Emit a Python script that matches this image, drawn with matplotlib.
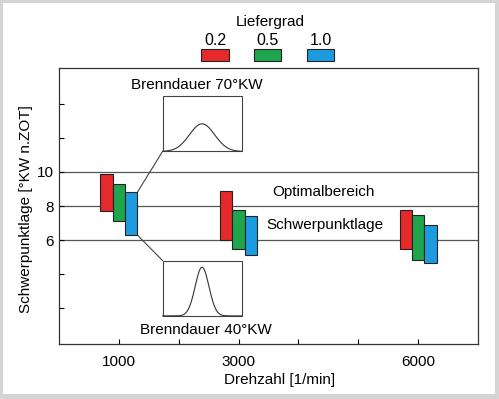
import numpy as np
import matplotlib.pyplot as plt
from matplotlib.patches import Rectangle

plt.rcParams['font.family'] = ['Liberation Sans', 'DejaVu Sans']

# data
drehzahl = [1000, 3000, 6000]
liefergrad = ['0.2', '0.5', '1.0']
colors = ['#e62a2c', '#1fa54b', '#1c9be0']
oben = {'0.2': [9.9, 8.9, 7.75],
        '0.5': [9.3, 7.75, 7.45],
        '1.0': [8.8, 7.4, 6.9]}
unten = {'0.2': [7.7, 6.0, 5.5],
         '0.5': [7.1, 5.5, 4.85],
         '1.0': [6.3, 5.15, 4.65]}
bereich = [6, 8, 10]
xticks = [1000, 2000, 3000, 4000, 5000, 6000]
xticklabels = ['1000', '', '3000', '', '', '6000']
yticks = [2, 4, 6, 8, 10, 12, 14]
yticklabels = ['', '', '6', '8', '10', '', '']

fig = plt.figure(figsize=(4.99, 3.99), dpi=100)
fig.patch.set_facecolor('#d4d4d4')
fig.patches.append(Rectangle((3 / 499, 5 / 399), 492 / 499, 391 / 399,
                             transform=fig.transFigure, facecolor='white',
                             edgecolor='none', zorder=-5))
ax = fig.add_axes([59 / 499, 55 / 399, 419 / 499, 276 / 399])
ax.set_facecolor('white')

# horizontal lines of the optimal range
for y in bereich:
    ax.axhline(y, color='#555555', lw=0.9, zorder=1)

# bars
w = 205
for i, lg in enumerate(liefergrad):
    x = [d + (i - 1) * w for d in drehzahl]
    h = [o - u for o, u in zip(oben[lg], unten[lg])]
    ax.bar(x, h, width=w, bottom=unten[lg], color=colors[i],
           edgecolor='#222222', lw=0.8, zorder=3)

# inset boxes with burn curves
box_x0, box_x1 = 1730, 3050
box_h = 3.25
top_y0, bot_y0 = 11.2, 1.55
xc = (box_x0 + box_x1) / 2
xs = np.linspace(box_x0, box_x1, 200)
for y0, sig, peak in [(top_y0, 210, 0.5), (bot_y0, 115, 0.88)]:
    ax.add_patch(Rectangle((box_x0, y0), box_x1 - box_x0, box_h,
                           facecolor='white', edgecolor='#444444', lw=0.8, zorder=2))
    ax.plot(xs, y0 + peak * box_h * np.exp(-0.5 * ((xs - xc) / sig) ** 2),
            color='#333333', lw=0.8, zorder=2)

# connectors from the blue bar at 1000
bx = drehzahl[0] + w * 1.5
ax.plot([bx, box_x0], [oben['1.0'][0], top_y0], color='#444444', lw=0.8, zorder=2)
ax.plot([bx, box_x0], [unten['1.0'][0], bot_y0 + box_h], color='#444444', lw=0.8, zorder=2)

ax.text(2310, 15.1, 'Brenndauer 70°KW', ha='center', va='center', fontsize=11)
ax.text(2450, 0.75, 'Brenndauer 40°KW', ha='center', va='center', fontsize=11)
ax.text(4420, 8.8, 'Optimalbereich', ha='center', va='center', fontsize=11)
ax.text(4445, 6.9, 'Schwerpunktlage', ha='center', va='center', fontsize=11)

ax.set_xlim(0, 7000)
ax.set_ylim(-0.1, 16.1)
ax.set_xticks(xticks)
ax.set_xticklabels(xticklabels)
ax.set_yticks(yticks)
ax.set_yticklabels(yticklabels)
ax.tick_params(direction='in', length=3.5, width=0.8, labelsize=11, pad=8)
ax.tick_params(axis='y', pad=4)
for s in ax.spines.values():
    s.set_color('#333333')
    s.set_linewidth(0.9)

ax.set_xlabel('Drehzahl [1/min]', fontsize=11)
ax.xaxis.set_label_coords((280 - 59) / 419, -0.105)
ax.set_ylabel('Schwerpunktlage [°KW n.ZOT]', fontsize=11)
ax.yaxis.set_label_coords(-0.063, 0.49)

# legend drawn above the axes
ax.text(0.5036, 1.168, 'Liefergrad', transform=ax.transAxes, ha='center',
        va='center', fontsize=11)
for i, lg in enumerate(liefergrad):
    x0 = 0.3396 + i * 0.1258
    ax.add_patch(Rectangle((x0, 1.0264), 0.0654, 0.0435, transform=ax.transAxes,
                           facecolor=colors[i], edgecolor='#222222', lw=0.8,
                           clip_on=False))
    ax.text(x0 + 0.0327, 1.101, lg, transform=ax.transAxes, ha='center',
            va='center', fontsize=11.5)

fig.savefig('out.png', dpi=100, facecolor=fig.get_facecolor())
